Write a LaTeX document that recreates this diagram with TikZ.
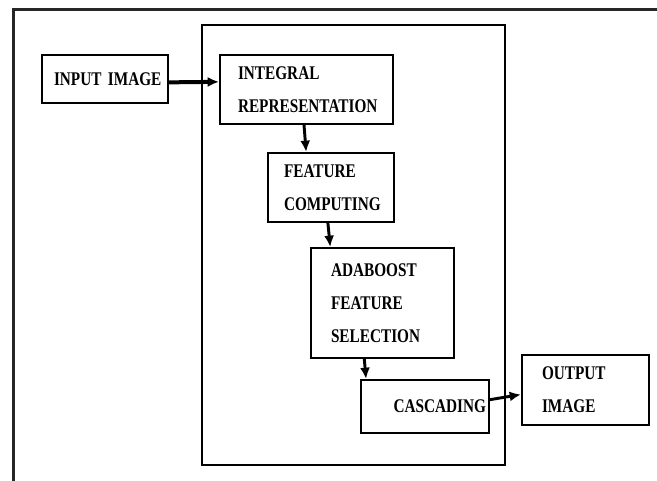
\documentclass[tikz,border=0pt]{standalone}
\usepackage{fontspec}
\setmainfont{Liberation Serif}[FakeStretch=0.79]
\usetikzlibrary{positioning, arrows.meta}

\begin{document}
\begin{tikzpicture}[
    x=0.75pt, y=-0.75pt,
    every node/.style={draw, line width=1.5pt, rectangle, anchor=north west, inner ysep=0pt, font=\fontsize{14.5}{24.75}\selectfont\bfseries},
    stagebox/.style={align=left, text width=#1},
    arrow/.style={-{Latex[length=8.5pt, width=7.5pt]}, line width=2.2pt}
]
\useasboundingbox (0,0) rectangle (657,481);
\clip (0,0) rectangle (657,481);

% frames
\draw[line width=2.25pt, black!85] (13,10) rectangle (680,500);
\draw[line width=1.5pt] (202,25) rectangle (505,465);

\node[stagebox=76.5pt, inner xsep=9pt, minimum height=36pt] (input) at (41,54) {\mbox{INPUT IMAGE}};
\node[stagebox=102.75pt, inner xsep=13.5pt, minimum height=51.75pt] (integral) at (219,54) {INTEGRAL\\REPRESENTATION};
\node[stagebox=70.5pt, inner xsep=12pt, minimum height=51.75pt] (feature) at (267,152) {FEATURE\\COMPUTING};
\node[stagebox=77.25pt, inner xsep=15pt, minimum height=82.5pt] (adaboost) at (310,247) {ADABOOST\\FEATURE\\SELECTION};
\node[align=right, text width=91.5pt, inner xsep=2.25pt, minimum height=39.75pt] (cascading) at (360,379) {CASCADING};
\node[stagebox=65.25pt, inner xsep=15pt, minimum height=52.5pt] (output) at (521,354) {OUTPUT\\IMAGE};

\draw[arrow, line width=3pt] (input.-3) -- (integral.175);
\draw[arrow] (integral.-94) -- (feature.125);
\draw[arrow] (feature.-95) -- (adaboost.133);
\draw[arrow] (adaboost.-108) -- (cascading.155);
\draw[arrow] (cascading.6) -- (output.184);
\end{tikzpicture}
\end{document}
